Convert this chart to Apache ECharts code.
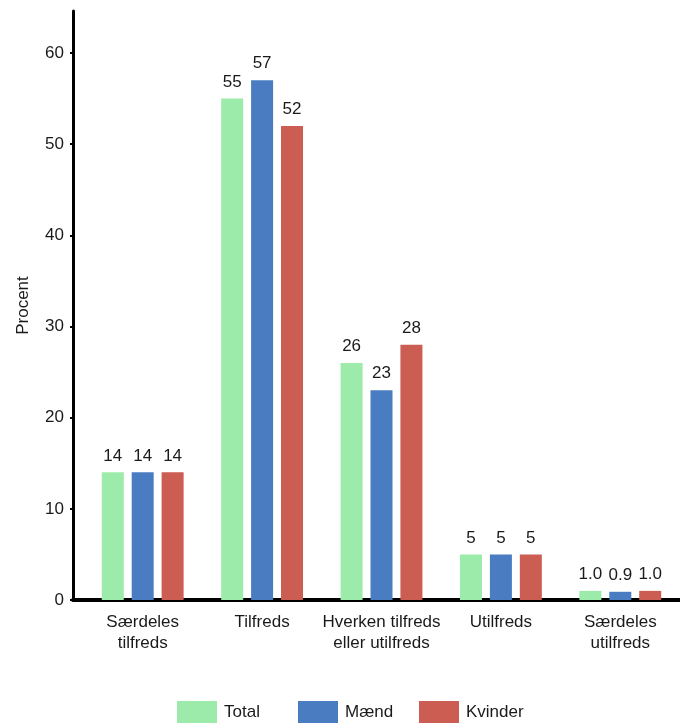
<!DOCTYPE html>
<html><head><meta charset="utf-8">
<script src="https://cdn.jsdelivr.net/npm/echarts@6/dist/echarts.min.js"></script>
<style>html,body{margin:0;padding:0;background:#fff}#c{width:680px;height:724px}</style>
</head><body><div id="c"></div>
<script>
const categories = ['Særdeles\ntilfreds', 'Tilfreds', 'Hverken tilfreds\neller utilfreds', 'Utilfreds', 'Særdeles\nutilfreds'];
const total = [14, 55, 26, 5, 1.0];
const maend = [14, 57, 23, 5, 0.9];
const kvinder = [14, 52, 28, 5, 1.0];
const seriesNames = ['Total', 'Mænd', 'Kvinder'];
const colors = ['#9debaa', '#4a7cc2', '#cc5d52'];
const yTicks = [0, 10, 20, 30, 40, 50, 60];

const FONT = 'Liberation Sans, Arial, sans-serif';
const TXT = '#1a1a1a';
const YMAX = 64.6;
const legendLefts = [177, 298, 419];

const chart = echarts.init(document.getElementById('c'), null, {renderer: 'canvas'});
function mk(name, data, color) {
  return {
    name: name, type: 'bar', xAxisIndex: 1, yAxisIndex: 1, data: data,
    barWidth: 22, barGap: '36%',
    itemStyle: {color: color},
    label: {show: true, position: 'top', distance: 8, color: TXT, fontSize: 17, fontFamily: FONT,
      formatter: p => (p.value < 2 ? p.value.toFixed(1) : String(p.value))}
  };
}
chart.setOption({
  animation: false,
  textStyle: {fontFamily: FONT},
  grid: [
    {left: 73, width: 607, top: 11, bottom: 124},
    {left: 83, width: 600, top: 11, bottom: 124}
  ],
  legend: seriesNames.map((n, i) => ({
    bottom: 1, left: legendLefts[i], padding: 0, itemWidth: 40, itemHeight: 22, icon: 'rect',
    textStyle: {fontSize: 17, color: TXT, fontFamily: FONT, padding: [0, 0, 0, 2]},
    data: [n]
  })),
  xAxis: [
    {gridIndex: 0, type: 'value', min: 0, max: 1, axisLine: {show: true, lineStyle: {color: '#000', width: 4}},
     axisTick: {show: false}, axisLabel: {show: false}, splitLine: {show: false}},
    {gridIndex: 1, type: 'category', data: categories,
     axisLine: {show: false}, axisTick: {show: false},
     axisLabel: {color: TXT, fontSize: 17, lineHeight: 21, margin: 12, fontFamily: FONT, interval: 0}}
  ],
  yAxis: [
    {gridIndex: 0, type: 'value', min: 0, max: YMAX, interval: 10,
     name: 'Procent', nameLocation: 'middle', nameGap: 41, nameRotate: 90,
     nameTextStyle: {color: TXT, fontSize: 17, fontFamily: FONT},
     axisLine: {show: true, lineStyle: {color: '#000', width: 3}},
     axisTick: {show: true, length: 3, lineStyle: {color: '#000', width: 2}},
     axisLabel: {color: TXT, fontSize: 17, margin: 9, fontFamily: FONT, showMaxLabel: false,
       formatter: v => (yTicks.indexOf(v) >= 0 ? String(v) : '')},
     splitLine: {show: false}},
    {gridIndex: 1, type: 'value', min: 0, max: YMAX, show: false, splitLine: {show: false}}
  ],
  series: [
    mk(seriesNames[0], total, colors[0]),
    mk(seriesNames[1], maend, colors[1]),
    mk(seriesNames[2], kvinder, colors[2])
  ]
});
</script></body></html>
